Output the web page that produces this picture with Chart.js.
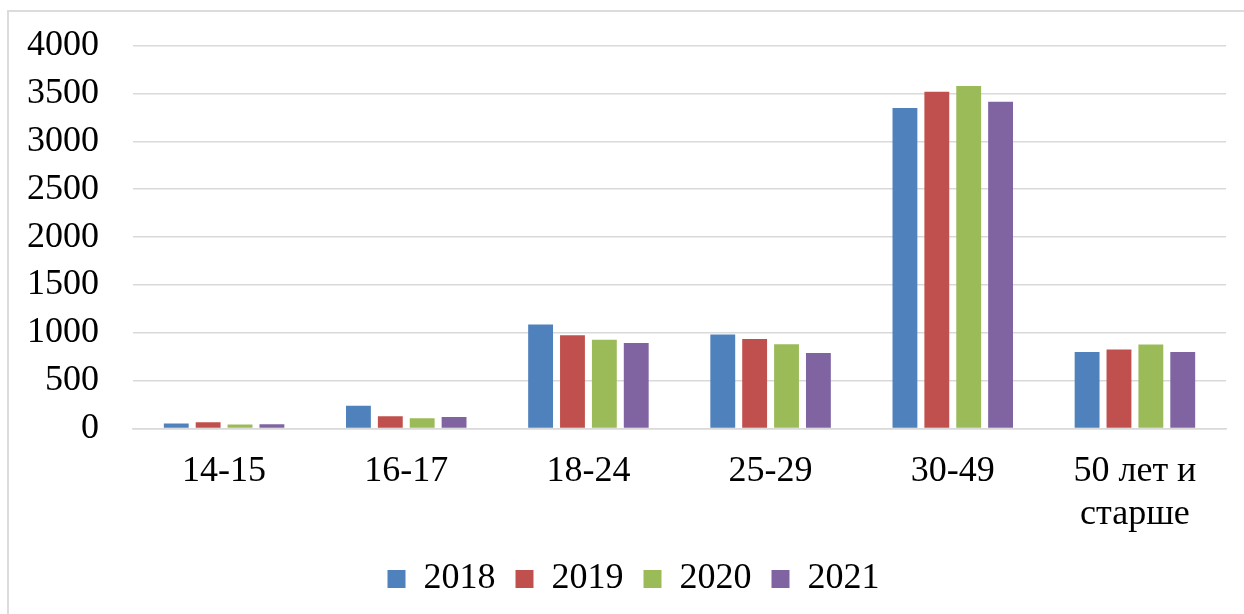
<!DOCTYPE html>
<html>
<head>
<meta charset="utf-8">
<script src="https://cdn.jsdelivr.net/npm/chart.js@4.4.1/dist/chart.umd.min.js"></script>
<style>
  html, body { margin: 0; padding: 0; background: #fff; overflow: hidden; }
  #frame {
    position: absolute; left: 7px; top: 10px; width: 1250px; height: 620px;
    border-left: 2px solid #dcdcdc; border-top: 2px solid #dcdcdc;
  }
  #wrap { position: absolute; left: 0; top: -10px; width: 1244px; height: 617px; }
</style>
</head>
<body>
<div id="frame"></div>
<div id="wrap"><canvas id="grafico" width="1244" height="617"></canvas></div>
<script>
// категории и значения по годам
const categorias = ['14-15', '16-17', '18-24', '25-29', '30-49', ['50 лет и', 'старше']];
const anos = ['2018', '2019', '2020', '2021'];
const v2018 = [53, 239, 1088, 983, 3347, 801];
const v2019 = [67, 130, 975, 937, 3518, 825];
const v2020 = [42, 109, 929, 881, 3577, 878];
const v2021 = [46, 120, 894, 790, 3413, 801];

const cores = ['#4f81bd', '#c0504d', '#9bbb59', '#8064a2'];
const fonte = { family: '"Liberation Serif", serif', size: 36 };

const series = [v2018, v2019, v2020, v2021];

// легенда: компактная по высоте, но с широкими промежутками между элементами
const sdvigLegendy = {
    id: 'sdvigLegendy',
    afterLayout(chart) {
        const leg = chart.legend;
        if (!leg) return;
        leg.options.labels.padding = 20;
        leg.top -= 16;
        leg.left -= 25;
        leg.right -= 25;
    }
};

new Chart(document.getElementById('grafico'), {
    type: 'bar',
    data: {
        labels: categorias,
        datasets: series.map((dados, i) => ({
            label: anos[i],
            data: dados,
            backgroundColor: cores[i],
            borderWidth: 0,
            categoryPercentage: 0.70,
            barPercentage: 0.78
        }))
    },
    options: {
        responsive: false,
        animation: false,
        devicePixelRatio: 1,
        layout: { padding: { left: 27, right: 18, top: 36, bottom: 0 } },
        scales: {
            x: {
                grid: { display: false, drawTicks: false },
                border: { display: true, color: '#d9d9d9', width: 1.5 },
                ticks: { color: '#000', font: fonte, padding: 21, maxRotation: 0, autoSkip: false }
            },
            y: {
                min: 0,
                max: 4000,
                afterFit: (eixo) => { eixo.width = 106; },
                grid: { color: '#d9d9d9', lineWidth: 1.5, drawTicks: false },
                border: { display: false },
                ticks: {
                    color: '#000', font: fonte, padding: 34, stepSize: 500, autoSkip: false,
                    callback: (v) => String(v)
                }
            }
        },
        plugins: {
            legend: {
                position: 'bottom',
                labels: {
                    color: '#000',
                    font: fonte,
                    boxWidth: 18,
                    boxHeight: 18,
                    padding: 4
                }
            },
            tooltip: { enabled: false }
        }
    },
    plugins: [sdvigLegendy]
});
</script>
</body>
</html>
